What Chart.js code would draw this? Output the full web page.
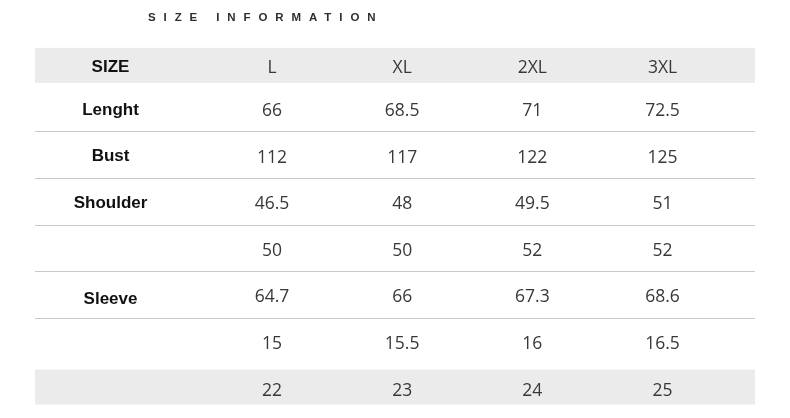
<!DOCTYPE html>
<html>
<head>
<meta charset="utf-8">
<script src="https://cdn.jsdelivr.net/npm/chart.js@4"></script>
<style>
  html, body { margin: 0; padding: 0; background: #fff; }
  #wrap { width: 790px; height: 418px; position: relative; }
</style>
</head>
<body>
<div id="wrap"><canvas id="sizeChart"></canvas></div>
<script>
// DATA
const title = "SIZE INFORMATION";
const headerLabel = "SIZE";
const sizes = ["L", "XL", "2XL", "3XL"];
const rowLabels = ["Lenght", "Bust", "Shoulder", "", "Sleeve", "", ""];
const lenght = ["66", "68.5", "71", "72.5"];
const bust = ["112", "117", "122", "125"];
const shoulder = ["46.5", "48", "49.5", "51"];
const row4 = ["50", "50", "52", "52"];
const sleeve = ["64.7", "66", "67.3", "68.6"];
const row6 = ["15", "15.5", "16", "16.5"];
const row7 = ["22", "23", "24", "25"];

const rows = [lenght, bust, shoulder, row4, sleeve, row6, row7];

// STYLE
const bandColor = "#ebebeb";
const lineColor = "#c9c9c9";
const labelCol = -0.24;    // x position of the row label column
const headerShift = 0.1;   // header row sits a little lower than a full row step
const labelFont = "bold 17px 'Liberation Sans', Arial, sans-serif";
const valueFont = "17.5px 'Open Sans', sans-serif";
const valueColor = "#383838";

// one invisible point per cell so the scales cover the table
const cellPoints = [];
cellPoints.push({ x: labelCol, y: 0 });
sizes.forEach((s, c) => cellPoints.push({ x: c + 1, y: 0 }));
rows.forEach((r, i) => r.forEach((v, c) => cellPoints.push({ x: c + 1, y: i + 1 })));

const tablePlugin = {
    id: "sizeTable",
    beforeDatasetsDraw(chart) {
        const { ctx, chartArea, scales: { x, y } } = chart;
        const w = chartArea.right - chartArea.left;
        ctx.save();

        // grey bands: header and last row
        ctx.fillStyle = bandColor;
        let t = y.getPixelForValue(-0.31), b = y.getPixelForValue(0.44);
        ctx.fillRect(chartArea.left, t, w, b - t);
        t = y.getPixelForValue(rows.length - 0.41);
        b = y.getPixelForValue(rows.length + 0.34);
        ctx.fillRect(chartArea.left, t, w, b - t);

        // row separators
        ctx.strokeStyle = lineColor;
        ctx.lineWidth = 1;
        for (let i = 1; i <= 5; i++) {
            const yy = Math.round(y.getPixelForValue(i + 0.5)) - 0.5;
            ctx.beginPath();
            ctx.moveTo(chartArea.left, yy);
            ctx.lineTo(chartArea.right, yy);
            ctx.stroke();
        }

        ctx.textAlign = "center";
        ctx.textBaseline = "middle";

        // header row
        const hy = y.getPixelForValue(headerShift);
        ctx.fillStyle = "#111";
        ctx.font = labelFont;
        ctx.fillText(headerLabel, x.getPixelForValue(labelCol), hy);
        ctx.fillStyle = valueColor;
        ctx.font = valueFont;
        sizes.forEach((s, c) => ctx.fillText(s, x.getPixelForValue(c + 1), hy + 1));

        // body rows
        rows.forEach((r, i) => {
            const yy = y.getPixelForValue(i + 1);
            ctx.fillStyle = "#111";
            ctx.font = labelFont;
            ctx.fillText(rowLabels[i], x.getPixelForValue(labelCol), yy + (i === 4 ? 4 : 1));
            ctx.fillStyle = valueColor;
            ctx.font = valueFont;
            r.forEach((v, c) => ctx.fillText(v, x.getPixelForValue(c + 1), yy + 2));
        });

        // title
        ctx.fillStyle = "#2e2e2e";
        ctx.textAlign = "left";
        ctx.font = "bold 11.5px 'Liberation Sans', Arial, sans-serif";
        ctx.letterSpacing = "7.9px";
        ctx.fillText(title, 148, 18);

        ctx.restore();
    }
};

const ctx = document.getElementById("sizeChart").getContext("2d");
new Chart(ctx, {
    type: "scatter",
    data: {
        datasets: [{
            label: "cells",
            data: cellPoints,
            pointRadius: 0,
            pointHoverRadius: 0
        }]
    },
    options: {
        responsive: true,
        maintainAspectRatio: false,
        animation: false,
        layout: { padding: { left: 35, right: 35, top: 39, bottom: 6 } },
        plugins: {
            legend: { display: false },
            tooltip: { enabled: false },
            title: { display: false }
        },
        scales: {
            x: { type: "linear", display: false, min: -0.82, max: 4.71 },
            y: { type: "linear", display: false, reverse: true, min: -0.5, max: 7.5 }
        }
    },
    plugins: [tablePlugin]
});
</script>
</body>
</html>
